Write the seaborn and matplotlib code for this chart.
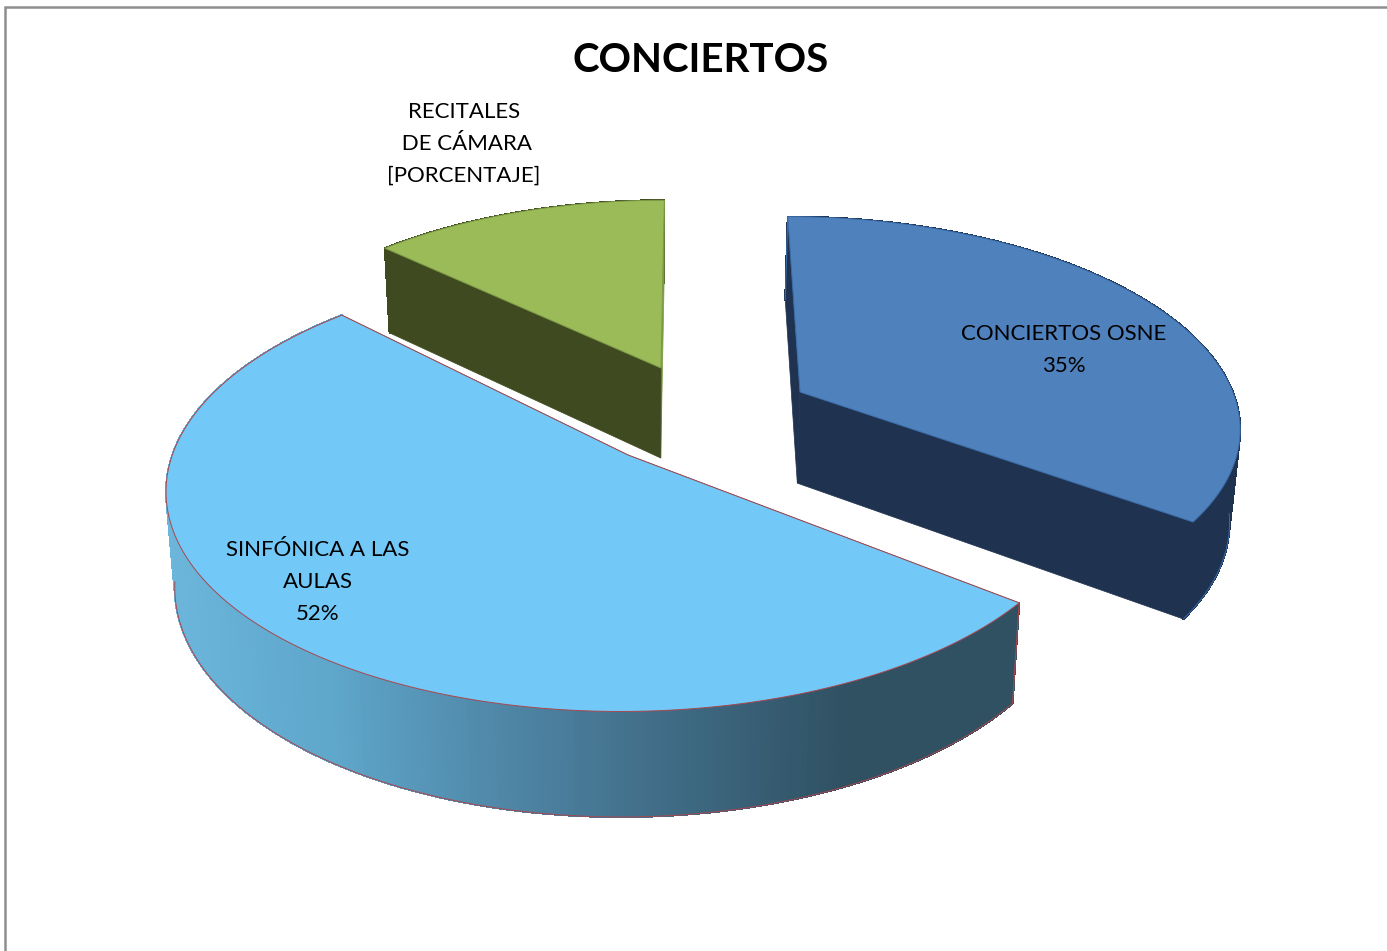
import numpy as np
import pandas as pd
import matplotlib
matplotlib.use("Agg")
import matplotlib.pyplot as plt
from matplotlib.colors import LinearSegmentedColormap
from matplotlib.patches import Polygon, Rectangle
import seaborn as sns

# datos
categorias = ["CONCIERTOS OSNE", "SINFÓNICA A LAS AULAS", "RECITALES DE CÁMARA"]
valores = [35, 52, 13]
etiquetas = ["CONCIERTOS OSNE\n35%", "SINFÓNICA A LAS\nAULAS\n52%",
             "RECITALES\n DE CÁMARA\n[PORCENTAJE]"]
titulo = "CONCIERTOS"

colores_top = ["#4F81BD", "#72C8F6", "#9BBB59"]
colores_lado = ["#1F3250", "#2F5162", "#3F4A20"]
colores_borde = ["#3A6CA8", "#A8484F", "#7C9A45"]

sns.set_theme(style="white")
plt.rcParams["font.family"] = ["Lato", "DejaVu Sans"]

# geometria de la vista en perspectiva
RX, RY, K = 458, 218, 0.15
CENTROS = [(800, 392), (628, 455), (661, 368)]
ESCALA = [(0.945, 0.925), (0.995, 1.0), (0.92, 0.885)]
CIZALLA = [0.07, -0.03, -0.02]
GIRO = [0, 2, 0]
POS_TEXTO = [(1064, 350), (318, 582), (464, 144)]
ORDEN = [2, 1, 0]


def proyectar(ang, idx):
    # angulo en grados, horario desde las 12
    cx, cy = CENTROS[idx]
    sx, sy = ESCALA[idx]
    a = np.radians(ang + GIRO[idx])
    u, v = np.sin(a), np.cos(a)
    s = 1 / (1 + K * v)
    dy = -sy * RY * v * s
    return cx + sx * RX * u * s + CIZALLA[idx] * dy, cy + dy


def bajar(x, y):
    # cara inferior del sector
    return 650 + (x - 650) * 0.982, y + 94 + 0.045 * (y - 455)


df = pd.DataFrame({"categoria": categorias, "valor": valores})
df["fin"] = df["valor"].cumsum() / df["valor"].sum() * 360
df["inicio"] = df["fin"].shift(1, fill_value=0)

fig, ax = plt.subplots(figsize=(13.87, 9.51), dpi=100)
ax.set_position([0, 0, 1, 1])
ax.set_xlim(0, 1387)
ax.set_ylim(951, 0)
ax.axis("off")

ax.add_patch(Rectangle((5, 7), 1500, 1100, fc="white", ec="#8E8E8E", lw=1.8))

grad = LinearSegmentedColormap.from_list(
    "lado", ["#6CB6DC", "#5EA6CA", "#4F86A6", "#3F6A84", "#2F5162", "#2F5162"])
xmin, xmax = 170, 1018

for i in ORDEN:
    ini, fin = df.loc[i, "inicio"], df.loc[i, "fin"]
    angs = np.linspace(ini, fin, 240)
    x, y = proyectar(angs, i)
    xb, yb = bajar(x, y)
    ax0, ay0 = CENTROS[i]
    bx0, by0 = bajar(ax0, ay0)
    z = 2 + ORDEN.index(i)
    vis = (angs + GIRO[i] > 98) & (angs + GIRO[i] < 262)

    # pared exterior, por tramos (en el sector grande se pinta despues de las radiales)
    def pared_exterior(tramos):
        for j in tramos:
            c = colores_lado[i]
            if i == 1:
                c = grad(np.clip((xb[j] - xmin) / (xmax - xmin), 0, 1))
            ax.add_patch(Polygon([(x[j], y[j]), (x[j + 1], y[j + 1]), (xb[j + 1], yb[j + 1]), (xb[j], yb[j])],
                                 fc=c, ec=c, lw=0.8, antialiased=False, zorder=z))

    pared_exterior(range(len(x) - 1))
    # paredes radiales (la del final va primero, queda detras)
    for k, c in [(-1, colores_borde[i] if i == 2 else colores_lado[i]), (0, colores_lado[i])]:
        ax.add_patch(Polygon([(ax0, ay0), (x[k], y[k]), (xb[k], yb[k]), (bx0, by0)],
                             fc=c, ec=c, lw=0.5, zorder=z))
    if i == 1:
        pared_exterior(np.where(vis[:-1])[0])
    # borde inferior, solo la parte que mira al frente
    ax.plot(xb[vis], yb[vis], color=colores_borde[i], lw=0.7, zorder=z)
    if i != 2:
        ax.plot([x[0], xb[0]], [y[0], yb[0]], color=colores_borde[i], lw=0.8, zorder=z)
    # cara superior
    ax.add_patch(Polygon(np.r_[[(ax0, ay0)], np.c_[x, y]], closed=True,
                         fc=colores_top[i], ec=colores_borde[i], lw=0.7, zorder=z))

for i, txt in enumerate(etiquetas):
    ax.text(POS_TEXTO[i][0], POS_TEXTO[i][1], txt, ha="center", va="center",
            fontsize=16, color="black", linespacing=1.72, zorder=10)

ax.text(701, 60, titulo, ha="center", va="center", fontsize=29, fontweight="bold",
        color="black", zorder=10)

fig.savefig("out.png", dpi=100)
plt.close(fig)
